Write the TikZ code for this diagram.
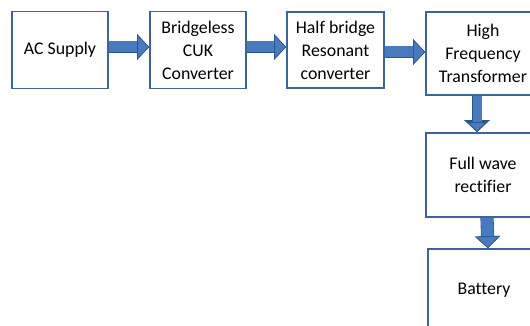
\documentclass[tikz,border=0pt]{standalone}
\usepackage{fontspec}
\setmainfont{Carlito}[Ligatures=NoCommon]
\usetikzlibrary{arrows.meta,positioning,calc}
\definecolor{frame}{RGB}{60,100,155}
\definecolor{pipe}{RGB}{74,122,190}
\definecolor{pipeedge}{RGB}{45,85,140}
\tikzset{
  stage/.style={draw=frame,line width=1.6pt,fill=white,align=center,
    minimum width=#1,inner sep=0pt,font=\fontsize{17.8}{23}\selectfont},
  stage/.default=96pt,
  flowarrow/.style={line width=#1,draw=pipe,
    -{Triangle[length=12pt,width=25pt,fill=pipe,color=pipeedge,line width=0.6pt]},
    preaction={draw=pipeedge,line width=#1+1.2pt,-{Triangle[length=12pt,width=25pt]}}},
  flowarrow/.default=11pt,
}
\begin{document}
\begin{tikzpicture}[x=1pt,y=-1pt]
  \useasboundingbox (0,0) rectangle (530,326);
  % top row
  \node[stage,minimum height=77pt] (ac) at (60,50) {AC Supply};
  \node[stage,minimum height=77pt] (cuk) at (198,50) {Bridgeless\\CUK\\Converter};
  \node[stage=97pt,minimum height=76pt] (hbr) at (335.5,50) {Half bridge\\Resonant\\converter};
  \node[stage=114pt,minimum height=83pt] (hft) at (483,53.5) {High\\Frequency\\Transformer};
  % right column
  \node[stage=114pt,minimum height=84pt] (fwr) at (483,175) {Full wave\\rectifier};
  \node[stage=112pt,minimum height=82pt] (bat) at (484,290) {Battery};
  % arrows
  \draw[flowarrow] ([yshift=3pt]ac.east) -- ([yshift=3pt]cuk.west);
  \draw[flowarrow] ([yshift=3pt]cuk.east) -- ([yshift=3pt]hbr.west);
  \draw[flowarrow] ([yshift=-2pt]hbr.east) coordinate (hbrout) -- (hbrout -| hft.west);
  \draw[flowarrow=9pt,-{Triangle[length=10pt,width=19pt,fill=pipe,color=pipeedge,line width=0.6pt]}]
    ([xshift=-6pt]hft.south) -- ([xshift=-6pt]fwr.north);
  \draw[flowarrow=12pt] ([xshift=4pt]fwr.south) -- ([xshift=4pt]bat.north);
\end{tikzpicture}
\end{document}
